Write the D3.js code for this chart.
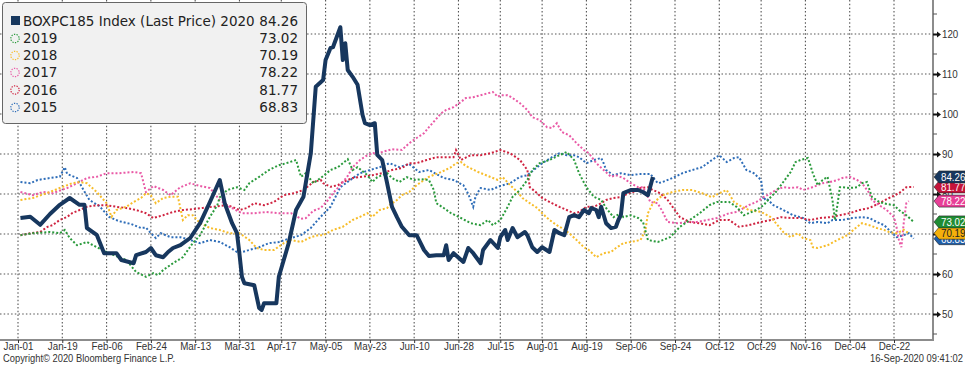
<!DOCTYPE html>
<html><head><meta charset="utf-8">
<script src="https://cdn.jsdelivr.net/npm/d3@7"></script>
<style>
html,body{margin:0;padding:0;background:#fff;}
svg{display:block;}
</style></head><body>
<svg id="chart" width="965" height="365"></svg>
<script>
// ---------- DATA ----------
const tickLabels = ["Jan-01","Jan-19","Feb-06","Feb-24","Mar-13","Mar-31","Apr-17","May-05","May-23","Jun-10","Jun-28","Jul-15","Aug-01","Aug-19","Sep-06","Sep-24","Oct-12","Oct-29","Nov-16","Dec-04","Dec-22"];
const yTicks = [50,60,70,80,90,100,110,120];
const seriesNames = ["BOXPC185 Index (Last Price) 2020","2019","2018","2017","2016","2015"];
const lastValues = [84.26,73.02,70.19,78.22,81.77,68.83];

const days2020 = [1,5,9,13,17,21,25,27,28,32,35,40,42,47,48,52,54,56,59,61,63,66,70,74,78,82,84,87,89,90,91,92,96,98,99,100,105,106,110,113,116,119,121,124,125,127,128,131,132,133,134,136,138,140,141,143,145,146,148,150,152,154,156,159,162,165,167,170,173,174,175,177,181,183,185,188,189,192,195,196,198,199,201,203,206,207,209,211,213,216,218,220,222,224,226,228,230,232,233,235,236,237,239,241,243,244,245,246,249,252,254,256,258];
const vals2020 = [74,74.3,72.3,75,77.3,79,77.3,77.3,71.5,69.8,65.2,65.2,63.5,62.7,64.7,65.5,66.5,64.7,64.2,65.5,66.5,67.2,69,72.7,78,83.5,77.7,72.7,70.2,65,59.3,57.7,57.2,51.5,51,52.7,52.7,59.3,67.7,76,79.3,90.2,106.8,108.5,113.5,116.5,116.7,121.7,113.5,117.7,111,109.3,107.3,99.8,97.7,97.2,97.7,89.8,88.5,82.7,76.8,74.2,71.8,69.7,69.7,66,64.5,64.7,64.7,67.2,63.5,65.2,63,66.5,65.2,62.7,66,68.5,66.5,69.2,71,68.5,71.5,69.2,70.5,69.7,66.7,65.5,66.7,65.5,71,70.2,69.7,74.2,74.7,74.2,76,75.2,76.5,76,74.2,76.8,72.7,71.5,71.8,73.5,74.7,80.2,81,81,80.5,79.7,84.26];

const days2019 = [1,6,13,17,19,21,24,28,32,36,39,44,48,52,55,57,59,63,67,71,74,78,81,82,85,89,92,94,98,102,106,109,113,115,117,120,123,127,130,134,136,138,142,144,146,150,152,155,158,161,164,167,169,170,173,176,180,184,188,191,193,196,199,201,204,207,209,212,216,220,223,226,228,231,234,237,239,242,245,246,249,252,254,256,260,265,269,273,277,281,284,289,292,295,297,300,303,306,308,311,314,316,318,321,322,323,325,327,329,331,332,333,334,335,338,341,343,345,347,350,353,356,358,361,364];
const vals2019 = [69.7,70.2,70.5,70.2,71,69,67.2,68,66.7,65.5,64.7,63.5,60.5,59.3,60.2,59.7,61,62.7,64.2,67.7,69.7,74.3,77.2,79.2,81,81.7,81,82.7,84.3,86,87.2,87.7,88.5,84.3,85.2,82.7,84,86,86.7,88.7,86,86.7,84.7,83,84.2,85.2,84,83,84.2,83.5,83.7,83.5,81,77.7,76.5,75.2,74,72.7,72.2,73.5,72.2,73.5,76.8,79.3,81,83.5,86,87.7,88.5,89.7,90.5,88.5,85.2,81.7,79.3,78.5,76.5,74.2,75.2,74.2,74.7,74,73,68.5,68,69.2,71.8,73.5,75.2,77.2,78,78,76.8,74.7,75.2,76,77.2,79.3,80.5,83,85.5,88,88.5,89,87.2,85.2,82.2,83.5,84.3,78.5,73.5,77.2,81.7,81.7,81.5,81.7,82.7,83,79.3,78,77.5,77.2,76,74.7,73.02];

const days2018 = [1,6,13,17,22,25,28,32,36,38,40,44,47,50,52,54,56,59,62,65,67,69,71,74,78,82,86,90,94,97,100,104,108,111,115,119,122,124,128,132,136,139,142,144,147,150,151,154,156,159,162,165,167,172,176,178,180,182,187,191,195,197,200,203,205,208,211,213,216,219,221,224,227,230,232,235,238,241,243,246,249,253,255,256,258,262,266,270,274,278,282,285,288,291,293,297,302,306,308,311,314,317,319,322,323,325,329,333,337,341,343,346,349,352,354,357,360,362];
const vals2018 = [78.5,79,80.5,81.5,82.7,83,82.7,80.5,77.7,74.3,76,76.8,78,79,80.2,79.7,77.7,79,79.3,79.3,73.5,74.7,74.7,72.7,71.5,71,70.2,70.2,68.5,66.5,66,66,67.7,68.5,68,69.2,69.7,69.7,71,71.8,73.5,74.3,75.2,74.3,76,76.5,77.2,78.5,79.7,80.5,82.2,83.5,84.3,85.5,86.7,87.7,88,87,85.5,84.5,83.5,84.2,82.2,80.5,79,77.7,76.5,75.2,73.5,72.2,71.5,70.2,68.5,66.7,66,64.2,65.2,65.5,66.5,67.7,68,68.5,71,75.2,77.7,79.7,80.5,81,81,80.2,79.2,80.2,81,78,77.2,76,75.5,74.2,72.7,70.5,69.2,70.2,69,68.5,66.7,66.5,67.2,68.5,69.7,71.8,72.7,72.2,71.5,71,70.5,70.2,71,70.19];

const days2017 = [1,6,10,14,20,24,28,32,36,41,47,50,52,55,59,62,66,70,74,78,82,86,91,96,101,106,111,115,117,120,123,126,128,131,134,136,139,142,144,148,152,156,159,162,165,167,172,174,177,180,182,185,188,191,193,195,196,199,201,204,207,209,212,215,217,219,221,224,227,230,232,235,238,241,243,246,249,252,254,257,260,262,264,268,272,276,280,284,287,289,292,295,297,300,303,306,308,311,314,317,319,322,325,327,330,333,335,338,341,343,346,347,350,353,356,357,358,359,360,361,362];
const vals2017 = [80.5,79.7,80.5,80.2,81.5,82.7,84,84.3,85.2,85.2,85.5,85.2,80.5,82,81,79.7,81.7,82.7,82,81.5,78.5,76.8,75.2,75.2,75.5,75.2,75.2,73.8,74,75.8,76.5,78.5,80.2,82.2,84.5,86.7,88.5,89.7,90.2,90.5,91.2,91,92.7,94,95.2,96.7,100.2,101,101.7,103,104,104.2,104.7,105.2,105.5,104.3,104.7,104.7,104,102.7,101,99.2,98.5,96.7,96.5,97.7,95.5,94.7,92.7,91,90.2,87.7,86,84.3,84.7,84,82.7,81.7,81.7,78,77.7,75.5,73,72.7,73,73,73.5,74,74.7,75.2,75.5,76.5,77.2,78,79.2,80.2,81,81.7,81.5,81.7,81,81.5,82.2,82.7,83,83.5,84,84.3,83.5,82.7,80.2,78.5,77.2,76,74.2,71.8,68.5,66.7,73,77.7,78.22];

const days2016 = [1,5,9,12,14,17,20,22,25,28,32,36,40,44,48,52,55,59,63,67,71,75,79,82,85,87,90,93,96,100,104,108,112,116,120,123,124,127,130,132,136,140,144,148,152,156,159,162,166,170,174,177,178,180,184,188,192,196,200,204,207,208,211,213,217,220,223,226,228,231,234,237,239,242,245,248,250,253,256,258,261,264,266,269,273,277,281,285,289,293,297,302,306,310,314,318,322,326,330,334,338,342,346,350,354,358,361,364];
const vals2016 = [69.7,70.2,70.5,71.8,72.2,73.5,74.3,75.2,76,76.8,77.2,77.2,76.8,76.5,76,75.2,74,74.7,75.5,76,76.2,76.5,76.8,77,77.2,76.8,76,76.5,77.7,77.2,78,79.7,80.2,81,83,83.5,82.7,81.8,82.2,83,84,84.3,84.7,85.2,86,86.5,87.7,87.7,88.5,89.2,89.2,89.2,91,88.5,89.7,89.7,90.2,91,90.2,88.5,86,81.7,80.2,79,77.7,76.8,76,75.2,75.5,76.8,76.8,77.7,78.5,79,79.2,80.2,80.5,81.5,81.7,81,80.2,78.5,76.8,74.2,73,72.7,72.2,73.5,73.5,71.8,72.2,73,73.5,74.2,74,74,73.5,74,74.2,74.7,75.2,76,76.5,77.7,79,80.2,81.7,81.77];

const days2015 = [1,5,8,13,17,19,20,24,26,29,33,37,41,46,50,52,54,56,58,62,66,70,74,78,82,86,89,91,94,98,102,106,111,115,119,123,127,131,135,139,143,147,151,155,159,163,167,170,173,177,181,183,185,186,188,192,196,200,204,207,211,213,217,220,223,226,228,231,234,237,238,239,242,245,249,253,257,260,262,266,270,274,278,282,285,288,291,293,296,299,302,303,304,307,311,315,319,322,325,329,331,335,339,343,346,349,352,354,357,360,362,364];
const vals2015 = [83,82.7,83.5,84,84.3,86.7,85,84,81.7,78.5,77,74.3,73.2,72.5,71.5,71.6,70.2,69,70.2,69.2,69.2,68.5,67.7,68.5,68,66.7,65.5,65.5,66,66.7,67.7,68,69,69.7,71.5,74.3,76.8,81.7,83.5,85.2,86,86.7,87.7,86.7,87.5,85.5,86,85,84,83.5,82.2,80,76.8,79.5,81.5,81,82,82.7,84.3,84.7,86.7,87.7,89.2,90.2,89.7,89.7,89.2,87.7,88.5,89,87.7,86,84.7,85.2,84.7,85,85,82.7,83,84,85.2,86,86.7,88.5,89.7,88,89,89.2,86,85.2,83.5,78.5,79,77.2,76,74.7,74,72.7,73,72.7,73.5,73.5,74,74.2,74,73,72.2,71,69.2,69.7,70.2,68.83];

// ---------- STYLE ----------
const colors = ["#17375e","#2a9a3c","#f7bd2a","#e95aa6","#cf2340","#2e6db8"];
const labelFill = ["#17375e","#1f8c34","#f5b00a","#e83f97","#c4143a","#1f5ea8"];
const labelText = ["#fff","#fff","#222","#fff","#fff","#fff"];
const narrow = "'Liberation Sans Narrow','Liberation Sans',Arial,sans-serif";

const svg = d3.select("#chart");
const base = new Date(2020,0,1);
const toDate = d => d3.timeDay.offset(base, d);
const parseTick = d3.timeParse("%Y-%b-%d");
const tickDates = tickLabels.map(t => parseTick("2020-" + t));

const axisX = 933, plotBottom = 340;
const x = d3.scaleTime().domain([base, tickDates[tickDates.length-1]]).range([18, 894]);
const y = d3.scaleLinear().domain([50,120]).range([314, 34]);

// grid
const grid = svg.append("g");
grid.selectAll(".hg").data(yTicks).join("line")
  .attr("x1",0).attr("x2",axisX).attr("y1",d=>y(d)).attr("y2",d=>y(d))
  .attr("stroke","#555").attr("stroke-width",1.1).attr("stroke-dasharray","1.5,2.2");
grid.selectAll(".vg").data(tickDates).join("line")
  .attr("x1",d=>x(d)).attr("x2",d=>x(d)).attr("y1",0).attr("y2",plotBottom)
  .attr("stroke","#555").attr("stroke-width",1.1).attr("stroke-dasharray","1.5,2.2");

// series
const allDays = [days2020,days2019,days2018,days2017,days2016,days2015];
const allVals = [vals2020,vals2019,vals2018,vals2017,vals2016,vals2015];
const line = d3.line().x(d=>x(toDate(d[0]))).y(d=>y(d[1]));
const series = allDays.map((ds,i)=>ds.map((d,j)=>[d, allVals[i][j]]));
const gl = svg.append("g");
for (let i = series.length-1; i >= 1; i--) {
  gl.append("path").datum(series[i]).attr("d",line).attr("fill","none")
    .attr("stroke",colors[i]).attr("stroke-width",2).attr("stroke-dasharray","2,2");
}
gl.append("path").datum(series[0]).attr("d",line).attr("fill","none")
  .attr("stroke",colors[0]).attr("stroke-width",4).attr("stroke-linejoin","round");

// x axis
svg.append("line").attr("x1",0).attr("x2",axisX).attr("y1",plotBottom).attr("y2",plotBottom)
  .attr("stroke","#8c8c8c").attr("stroke-width",2);
const xAxis = d3.axisBottom(x).tickValues(tickDates).tickSize(3)
  .tickFormat((d,i)=>tickLabels[i]);
const gx = svg.append("g").attr("transform",`translate(0,${plotBottom})`).call(xAxis);
gx.select(".domain").remove();
gx.selectAll(".tick line").attr("stroke","#333");
gx.selectAll(".tick text").attr("y",2).attr("dy","0.71em").classed("nar",true)
  .style("font-family",narrow).style("font-size","11.5px").attr("fill","#333");

// right axis
svg.append("line").attr("x1",axisX).attr("x2",axisX).attr("y1",0).attr("y2",plotBottom+1)
  .attr("stroke","#8c8c8c").attr("stroke-width",2);
const minor = d3.range(45,130,10);
svg.selectAll(".minor").data(minor).join("line")
  .attr("x1",axisX).attr("x2",axisX+4).attr("y1",d=>y(d)).attr("y2",d=>y(d))
  .attr("stroke","#555").attr("stroke-width",1);
const yAxis = d3.axisRight(y).tickValues(yTicks).tickSize(0).tickPadding(9);
const gy = svg.append("g").attr("transform",`translate(${axisX},0)`).call(yAxis);
gy.select(".domain").remove();
gy.selectAll(".tick text").classed("nar",true).style("font-family",narrow).style("font-size","11.5px").attr("fill","#333");
gy.selectAll(".tick").append("path").attr("d","M0,-1 L4,-1 L4,-3 L8,0 L4,3 L4,1 L0,1 Z").attr("fill","#111");

// last value tags
const tagOrder = [5,4,3,2,1,0];
const tags = svg.append("g");
tagOrder.forEach(i=>{
  const yc = y(lastValues[i]);
  tags.append("path")
    .attr("d",`M${axisX+1},${yc} L${axisX+6},${yc-6} L966,${yc-6} L966,${yc+6} L${axisX+6},${yc+6} Z`)
    .attr("fill",labelFill[i]).attr("stroke","#222").attr("stroke-width",0.6);
  tags.append("text").attr("x",axisX+8).attr("y",yc).attr("dy","0.36em").classed("nar",true)
    .style("font-family",narrow).style("font-size","11.5px").attr("fill",labelText[i])
    .text(lastValues[i].toFixed(2));
});

// legend
const lg = svg.append("g");
lg.append("rect").attr("x",2.5).attr("y",2.5).attr("width",304).attr("height",121).attr("rx",3)
  .attr("fill","#f1f1f1").attr("stroke","#666").attr("stroke-width",1);
const rowY = [21,38.5,55.5,72.5,90,107.5];
seriesNames.forEach((n,i)=>{
  const cy = rowY[i];
  if (i===0) {
    lg.append("rect").attr("x",11).attr("y",cy-5).attr("width",9).attr("height",9).attr("fill",colors[0]);
  } else {
    lg.append("circle").attr("cx",15).attr("cy",cy).attr("r",4.2).attr("fill","none")
      .attr("stroke",colors[i]).attr("stroke-width",1.2).attr("stroke-dasharray","1.3,1.3");
  }
  lg.append("text").attr("x",23).attr("y",cy).attr("dy","0.36em")
    .style("font-family","'DejaVu Sans',sans-serif").style("font-size","13.5px").attr("fill","#222").text(n);
  lg.append("text").attr("x",298).attr("y",cy).attr("dy","0.36em").attr("text-anchor","end")
    .style("font-family","'DejaVu Sans',sans-serif").style("font-size","13.5px").attr("fill","#222")
    .text(lastValues[i].toFixed(2));
});

// footer
const copy = svg.append("text").attr("x",3).attr("y",362).classed("nar",true)
  .style("font-family",narrow).style("font-size","11px").attr("fill","#333")
  .text("Copyright\u00A9 2020 Bloomberg Finance L.P.");
svg.append("text").attr("x",963).attr("y",362).attr("text-anchor","end").classed("nar",true)
  .style("font-family",narrow).style("font-size","11px").attr("fill","#333")
  .text("16-Sep-2020 09:41:02");

// condense the narrow-style texts to the reference's width
const squeeze = 172 / copy.node().getComputedTextLength();
svg.selectAll("text.nar").each(function(){
  const w = this.getComputedTextLength();
  d3.select(this).attr("textLength", w * squeeze).attr("lengthAdjust","spacingAndGlyphs");
});
</script>
</body></html>
